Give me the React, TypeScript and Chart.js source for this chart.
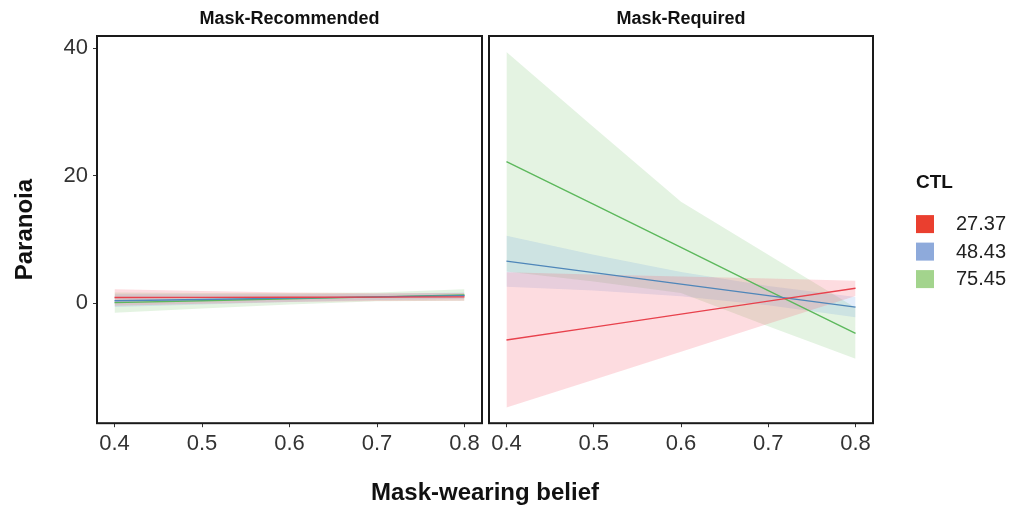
import React, { useEffect, useRef } from 'react';
import { Chart, registerables } from 'chart.js';

Chart.register(...registerables);

const FONT = "'Liberation Sans', Arial, Helvetica, sans-serif";

// ---- data ----
const xValues = [0.4, 0.5, 0.6, 0.7, 0.8];
const xTickValues = [0.4, 0.5, 0.6, 0.7, 0.8];
const yTickValues = [0, 20, 40];
const panelTitles = ['Mask-Recommended', 'Mask-Required'];
const xAxisTitle = 'Mask-wearing belief';
const yAxisTitle = 'Paranoia';
const legendTitle = 'CTL';
const ctlLevels = ['27.37', '48.43', '75.45'];

// Mask-Recommended panel (rows: CTL 27.37, 48.43, 75.45)
const recommendedFit = [
  [0.9, 0.92, 0.95, 0.97, 1.0],
  [0.4, 0.6, 0.8, 1.0, 1.2],
  [0.1, 0.4, 0.7, 1.0, 1.3],
];
const recommendedLower = [
  [-0.4, -0.08, 0.2, 0.37, 0.4],
  [-0.6, -0.2, 0.2, 0.5, 0.7],
  [-1.5, -0.8, -0.2, 0.3, 0.4],
];
const recommendedUpper = [
  [2.2, 1.92, 1.7, 1.57, 1.6],
  [1.4, 1.4, 1.4, 1.5, 1.7],
  [1.7, 1.6, 1.6, 1.7, 2.2],
];

// Mask-Required panel (rows: CTL 27.37, 48.43, 75.45)
const requiredFit = [
  [-5.75, -3.73, -1.7, 0.33, 2.35],
  [6.6, 4.8, 3.0, 1.2, -0.6],
  [22.2, 15.5, 8.75, 2.0, -4.7],
];
const requiredLower = [
  [-16.35, -11.98, -7.6, -3.22, 1.15],
  [2.6, 2.0, 1.1, -0.3, -2.2],
  [5.0, 3.4, 1.6, -3.6, -8.7],
];
const requiredUpper = [
  [4.85, 4.52, 4.2, 3.88, 3.55],
  [10.6, 7.6, 4.9, 2.7, 1.0],
  [39.4, 27.6, 15.9, 7.6, -0.7],
];

// ---- styles ----
const lineColors = ['#e8414c', '#4f86b9', '#5cb85c'];
const bandColors = ['rgba(244, 96, 116, 0.22)', 'rgba(110, 160, 225, 0.2)', 'rgba(120, 195, 110, 0.2)'];
const legendColors = ['#ea3f2f', '#8eaadb', '#a3d48d'];

function panelDatasets(xAxisID: string, fit: number[][], lower: number[][], upper: number[][]) {
  const ds: any[] = [];
  for (let s = 0; s < ctlLevels.length; s++) {
    ds.push({
      label: `${ctlLevels[s]} upper`,
      data: xValues.map((x, i) => ({ x, y: upper[s][i] })),
      xAxisID, yAxisID: 'y',
      borderWidth: 0, borderColor: 'rgba(0,0,0,0)', pointRadius: 0,
      fill: '+1', backgroundColor: bandColors[s], order: 2, tension: 0,
    });
    ds.push({
      label: `${ctlLevels[s]} lower`,
      data: xValues.map((x, i) => ({ x, y: lower[s][i] })),
      xAxisID, yAxisID: 'y',
      borderWidth: 0, borderColor: 'rgba(0,0,0,0)', pointRadius: 0,
      fill: false, order: 2, tension: 0,
    });
  }
  for (let s = 0; s < ctlLevels.length; s++) {
    ds.push({
      label: ctlLevels[s],
      data: xValues.map((x, i) => ({ x, y: fit[s][i] })),
      xAxisID, yAxisID: 'y',
      borderWidth: 1.4, borderColor: lineColors[s], pointRadius: 0,
      fill: false, order: 1, tension: 0,
    });
  }
  return ds;
}

const bottomAxis = (weight: number, show: boolean) => ({
  type: 'linear', position: 'bottom', stack: 'bottomRow', stackWeight: weight,
  min: 0.38, max: 0.82,
  afterBuildTicks: (s: any) => { s.ticks = xTickValues.map((v) => ({ value: v })); },
  afterFit: (s: any) => { s.height = 38; s.paddingLeft = 0; s.paddingRight = 0; },
  ticks: {
    display: show, font: { size: 22, family: FONT }, color: '#333333', padding: 4,
    maxRotation: 0, autoSkip: false, callback: (v: any) => Number(v).toFixed(1),
  },
  grid: { display: show, drawOnChartArea: false, drawTicks: show, tickLength: 4, color: '#333333', lineWidth: 1 },
  border: { display: false },
});

const topAxis = (weight: number, title: string) => ({
  type: 'linear', position: 'top', stack: 'topRow', stackWeight: weight,
  min: 0, max: 1,
  afterFit: (s: any) => { s.height = 36; s.paddingLeft = 0; s.paddingRight = 0; },
  ticks: { display: false },
  grid: { display: false, drawTicks: false },
  border: { display: false },
  title: {
    display: title !== '', text: title, color: '#111',
    font: { size: 18, weight: 'bold', family: FONT }, padding: { top: 8, bottom: 0 },
  },
});

const panelFramePlugin = {
  id: 'panelFrame',
  afterDatasetsDraw(chart: any) {
    const { ctx, chartArea, scales } = chart;
    ctx.save();
    ctx.strokeStyle = '#1a1a1a';
    ctx.lineWidth = 2;
    for (const id of ['xL', 'xR']) {
      const s = scales[id];
      ctx.strokeRect(s.left, chartArea.top, s.right - s.left, chartArea.bottom - chartArea.top);
    }
    ctx.restore();
  },
};

const ctlLegendPlugin = {
  id: 'ctlLegend',
  afterDraw(chart: any) {
    const { ctx, chartArea } = chart;
    const left = chartArea.right + 43;
    const mid = (chartArea.top + chartArea.bottom) / 2;
    ctx.save();
    ctx.textBaseline = 'middle';
    ctx.textAlign = 'left';
    ctx.font = `bold 19px ${FONT}`;
    ctx.fillStyle = '#111';
    ctx.fillText(legendTitle, left, mid - 47);
    ctlLevels.forEach((lvl, i) => {
      const top = mid - 14.5 + i * 27.5;
      ctx.fillStyle = legendColors[i];
      ctx.fillRect(left, top, 18, 18);
      ctx.font = `20px ${FONT}`;
      ctx.fillStyle = '#222';
      ctx.fillText(lvl, left + 40, top + 9.5);
    });
    ctx.restore();
  },
};

export default function App() {
  const ref = useRef<HTMLCanvasElement | null>(null);

  useEffect(() => {
    if (!ref.current) return;
    Chart.defaults.font.family = FONT;
    const chart = new Chart(ref.current, {
      type: 'line',
      data: {
        datasets: [
          ...panelDatasets('xL', recommendedFit, recommendedLower, recommendedUpper),
          ...panelDatasets('xR', requiredFit, requiredLower, requiredUpper),
        ],
      },
      options: {
        responsive: false,
        animation: false,
        events: [],
        layout: { padding: { left: 0, top: 0, right: 147, bottom: 0 } },
        plugins: {
          legend: { display: false },
          tooltip: { enabled: false },
          title: {
            display: true, position: 'bottom', fullSize: false, text: xAxisTitle, color: '#111',
            font: { size: 24, weight: 'bold', family: FONT }, padding: { top: 18, bottom: 0 },
          },
        },
        scales: {
          y: {
            type: 'linear', position: 'left', min: -18.8, max: 41.9,
            afterBuildTicks: (s: any) => { s.ticks = yTickValues.map((v) => ({ value: v })); },
            afterFit: (s: any) => { s.width = 97; s.paddingTop = 0; s.paddingBottom = 0; },
            ticks: { font: { size: 22, family: FONT }, color: '#333333', padding: 5 },
            grid: { drawOnChartArea: false, drawTicks: true, tickLength: 4, color: '#333333', lineWidth: 1 },
            border: { display: false },
            title: {
              display: true, text: yAxisTitle, color: '#111',
              font: { size: 24, weight: 'bold', family: FONT }, padding: { top: 11, bottom: 0 },
            },
          },
          xL: bottomAxis(385, true),
          xG: bottomAxis(7, false),
          xR: bottomAxis(384, true),
          // top strips are laid out in reverse order, so the right strip is declared first
          xTR: topAxis(384, panelTitles[1]),
          xTG: topAxis(7, ''),
          xTL: topAxis(385, panelTitles[0]),
        } as any,
      },
      plugins: [panelFramePlugin, ctlLegendPlugin],
    } as any);
    return () => chart.destroy();
  }, []);

  return (
    <div style={{ position: 'fixed', left: 0, top: 0, width: 1020, height: 508, background: '#fff' }}>
      <canvas ref={ref} width={1020} height={508} style={{ display: 'block', width: 1020, height: 508 }} />
    </div>
  );
}
